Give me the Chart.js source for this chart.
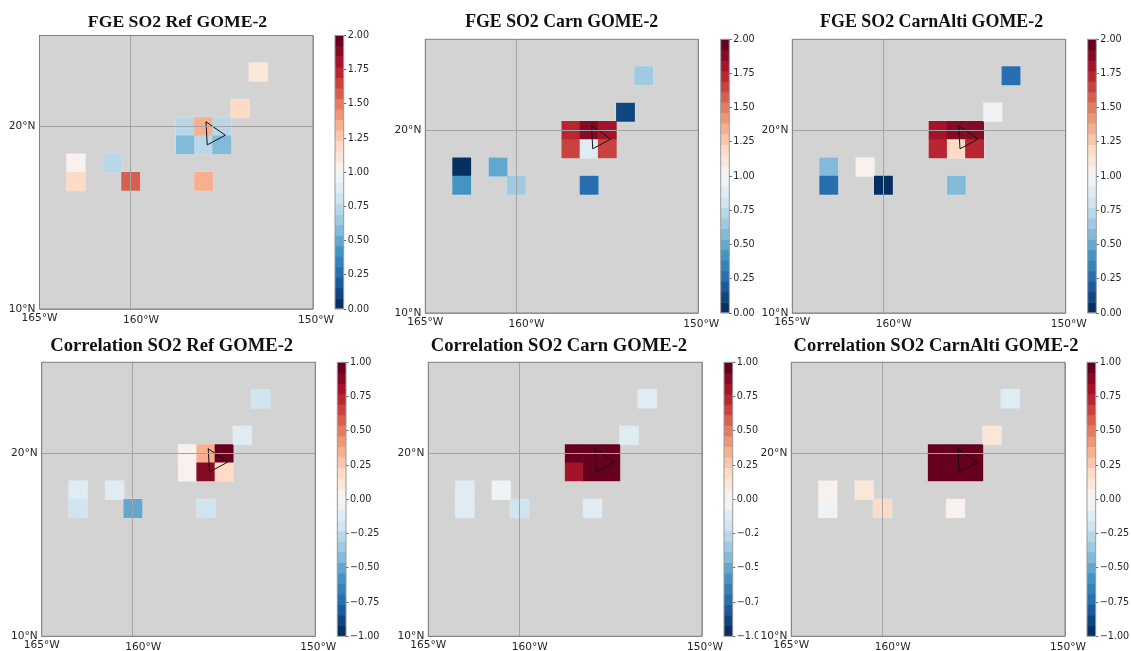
<!DOCTYPE html>
<html>
<head>
<meta charset="utf-8">
<title>SO2 FGE and correlation maps</title>
<script src="https://cdn.jsdelivr.net/npm/chart.js@4"></script>
<style>
    html, body { margin: 0; padding: 0; background: #fff; }
    body { position: relative; width: 1131px; height: 651px; overflow: hidden; }
    canvas { position: absolute; }
</style>
</head>
<body>
<script>
// grid cells with data, same for all panels
var cellLons = [-163, -163, -161, -160, -157, -156, -155, -157, -156, -155, -156, -154, -153];
var cellLats = [18, 17, 18, 17, 20, 20, 20, 19, 19, 19, 17, 21, 23];

var fgeRef = [1.05, 1.2, 0.75, 1.6, 0.75, 1.35, 0.75, 0.6, 0.75, 0.6, 1.35, 1.2, 1.1];
var fgeCarn = [0.02, 0.4, 0.5, 0.65, 1.72, 1.9, 1.8, 1.65, 0.9, 1.65, 0.28, 0.1, 0.68];
var fgeCarnAlti = [0.6, 0.28, 1.05, 0.02, 1.8, 1.9, 1.9, 1.72, 1.2, 1.72, 0.6, 0.95, 0.28];
var corrRef = [-0.12, -0.17, -0.1, -0.5, 0.02, 0.35, 0.98, 0.02, 0.87, 0.2, -0.17, -0.12, -0.17];
var corrCarn = [-0.12, -0.12, -0.06, -0.2, 0.98, 0.98, 0.98, 0.8, 0.98, 0.98, -0.12, -0.12, -0.12];
var corrCarnAlti = [0.02, -0.06, 0.1, 0.17, 0.98, 0.98, 0.98, 0.98, 0.98, 0.98, 0.02, 0.1, -0.12];

// Big Island outline
var islandLons = [-155.87, -155.8, -154.81, -155.87];
var islandLats = [20.27, 19.0, 19.53, 20.27];

var lonTicks = [-165, -160, -150];
var latTicks = [10, 20];
var fgeTicks = [0, 0.25, 0.5, 0.75, 1, 1.25, 1.5, 1.75, 2];
var corrTicks = [-1, -0.75, -0.5, -0.25, 0, 0.25, 0.5, 0.75, 1];

// RdBu_r anchor colours
var rdbu = ['#053061', '#2166ac', '#4393c3', '#92c5de', '#d1e5f0', '#f7f7f7', '#fddbc7', '#f4a582', '#d6604d', '#b2182b', '#67001f'];
var nLevels = 26;

// box = axes left/right/top/bottom, bar = colorbar left/right, clip = where the picture of the panel ends
var panels = [
    { title: 'FGE SO2 Ref GOME-2', values: fgeRef, ticks: fgeTicks, box: [39.5, 313, 35.5, 309], bar: [335, 343.7], titleX: 177.5, titleY: 22, titleSize: 17.7, clip: 385 },
    { title: 'FGE SO2 Carn GOME-2', values: fgeCarn, ticks: fgeTicks, box: [425.3, 698.3, 39.3, 313], bar: [720.7, 729.3], titleX: 561.7, titleY: 22, titleSize: 17.8, clip: 758 },
    { title: 'FGE SO2 CarnAlti GOME-2', values: fgeCarnAlti, ticks: fgeTicks, box: [792.3, 1065.7, 39.3, 313], bar: [1087.7, 1096.3], titleX: 931.6, titleY: 22, titleSize: 17.9, clip: 1131 },
    { title: 'Correlation SO2 Ref GOME-2', values: corrRef, ticks: corrTicks, box: [41.7, 315.3, 362.3, 636.3], bar: [337.3, 346], titleX: 171.7, titleY: 346, titleSize: 18.6, clip: 385 },
    { title: 'Correlation SO2 Carn GOME-2', values: corrCarn, ticks: corrTicks, box: [428.3, 702, 362.3, 636.3], bar: [724, 732.7], titleX: 559, titleY: 346, titleSize: 18.6, clip: 758 },
    { title: 'Correlation SO2 CarnAlti GOME-2', values: corrCarnAlti, ticks: corrTicks, box: [791.3, 1065, 362.3, 636.3], bar: [1087, 1095.7], titleX: 936, titleY: 346, titleSize: 18.5, clip: 1131 }
];

function hexToRgb(hex) {
    return [parseInt(hex.substr(1, 2), 16), parseInt(hex.substr(3, 2), 16), parseInt(hex.substr(5, 2), 16)];
}

// colour of level i out of nLevels
function levelColor(i) {
    var pos = i / (nLevels - 1) * (rdbu.length - 1);
    var lo = Math.min(Math.floor(pos), rdbu.length - 2);
    var f = pos - lo;
    var a = hexToRgb(rdbu[lo]);
    var b = hexToRgb(rdbu[lo + 1]);
    return 'rgb(' + Math.round(a[0] + (b[0] - a[0]) * f) + ',' + Math.round(a[1] + (b[1] - a[1]) * f) + ',' + Math.round(a[2] + (b[2] - a[2]) * f) + ')';
}

function valueColor(v, vmin, vmax) {
    var i = Math.floor((v - vmin) / (vmax - vmin) * nLevels);
    return levelColor(Math.max(0, Math.min(nLevels - 1, i)));
}

function addCanvas(left, top, width, height) {
    var canvas = document.createElement('canvas');
    canvas.width = width;
    canvas.height = height;
    canvas.style.left = left + 'px';
    canvas.style.top = top + 'px';
    canvas.style.width = width + 'px';
    canvas.style.height = height + 'px';
    document.body.appendChild(canvas);
    return canvas.getContext('2d');
}

// grey background behind the map
var mapBackground = {
    id: 'mapBackground',
    beforeDraw: function (chart) {
        var a = chart.chartArea;
        chart.ctx.fillStyle = '#d3d3d3';
        chart.ctx.fillRect(a.left, a.top, a.right - a.left, a.bottom - a.top);
    }
};

// frame round the plot area
var frame = {
    id: 'frame',
    afterDraw: function (chart, args, opts) {
        var a = chart.chartArea;
        chart.ctx.strokeStyle = opts.color;
        chart.ctx.lineWidth = 1;
        chart.ctx.strokeRect(a.left, a.top, a.right - a.left, a.bottom - a.top);
    }
};

// cartopy puts the lon labels a bit off their ticks, and the title is not centred on the axes
var nudgeLabels = {
    id: 'nudgeLabels',
    afterLayout: function (chart, args, opts) {
        chart.scales.x.getLabelItems().forEach(function (item, i) {
            item.options.translation[0] += [0, 10.3, 3][i];
            item.options.translation[1] += [0, 2, 2][i];
        });
        var t = chart.titleBlock;
        t.left = opts.titleX - 200;
        t.right = opts.titleX + 200;
        t.top = opts.titleY - 12;
    }
};

function drawMap(p) {
    var vmin = p.ticks[0];
    var vmax = p.ticks[p.ticks.length - 1];
    var left = p.box[0] - 39, right = p.box[1] + 32, top = p.box[2] - (p.titleY > 300 ? 37 : 35), bottom = p.box[3] + 20;
    var canvasLeft = Math.floor(left), canvasTop = Math.floor(top);
    var width = Math.ceil(right) - canvasLeft, height = Math.ceil(bottom) - canvasTop;
    var ctx = addCanvas(canvasLeft, canvasTop, width, height);

    var cells = cellLons.map(function (lon, i) {
        return { x: lon, y: [cellLats[i] - 0.5, cellLats[i] + 0.5] };
    });
    var island = islandLons.map(function (lon, i) {
        return { x: lon, y: islandLats[i] };
    });

    new Chart(ctx, {
        type: 'bar',
        data: {
            datasets: [{
                type: 'line',
                data: island,
                borderColor: '#111',
                borderWidth: 1,
                pointRadius: 0,
                tension: 0,
                order: 0
            }, {
                type: 'bar',
                data: cells,
                backgroundColor: p.values.map(function (v) { return valueColor(v, vmin, vmax); }),
                borderWidth: 0,
                barPercentage: 1,
                categoryPercentage: 1,
                grouped: false,
                order: 1
            }, {
                // pale rim the reference has round the cells
                type: 'bar',
                data: cells,
                backgroundColor: 'rgba(255,255,255,0.3)',
                borderWidth: 0,
                inflateAmount: 0.8,
                barPercentage: 1,
                categoryPercentage: 1,
                grouped: false,
                order: 2
            }]
        },
        plugins: [mapBackground, frame, nudgeLabels],
        options: {
            responsive: false,
            animation: false,
            events: [],
            layout: {
                padding: {
                    left: p.box[0] - canvasLeft - 36,
                    right: canvasLeft + width - p.box[1],
                    top: p.box[2] - canvasTop - 24,
                    bottom: canvasTop + height - p.box[3] - 18
                }
            },
            plugins: {
                legend: { display: false },
                tooltip: { enabled: false },
                title: {
                    display: true,
                    text: p.title,
                    color: '#111',
                    padding: 0,
                    font: { family: '"Liberation Serif"', size: p.titleSize, weight: 'bold', lineHeight: 24 / p.titleSize }
                },
                frame: { color: '#808080' },
                nudgeLabels: { titleX: p.titleX - canvasLeft, titleY: p.titleY - canvasTop }
            },
            scales: {
                x: {
                    type: 'linear',
                    min: -165,
                    max: -150,
                    offset: false,
                    afterBuildTicks: function (scale) {
                        scale.ticks = lonTicks.map(function (v) { return { value: v }; });
                    },
                    afterFit: function (scale) { scale.height = 18; },
                    grid: { display: true, offset: false, z: 1, color: '#a3a3a3', lineWidth: 1, drawTicks: false },
                    border: { display: false },
                    ticks: {
                        autoSkip: false,
                        maxRotation: 0,
                        padding: 3,
                        color: '#262626',
                        font: { family: '"DejaVu Sans"', size: 10.6 },
                        callback: function (v) { return Math.abs(v) + '°W'; }
                    }
                },
                y: {
                    type: 'linear',
                    min: 10,
                    max: 25,
                    afterBuildTicks: function (scale) {
                        scale.ticks = latTicks.map(function (v) { return { value: v }; });
                    },
                    afterFit: function (scale) { scale.width = 36; },
                    grid: { display: true, z: 1, color: '#a3a3a3', lineWidth: 1, drawTicks: false },
                    border: { display: false },
                    ticks: {
                        autoSkip: false,
                        padding: 4,
                        color: '#262626',
                        font: { family: '"DejaVu Sans"', size: 10.6 },
                        callback: function (v) { return v + '°N'; }
                    }
                }
            }
        }
    });
}

function drawColorbar(p) {
    var vmin = p.ticks[0];
    var vmax = p.ticks[p.ticks.length - 1];
    var step = (vmax - vmin) / nLevels;
    var canvasLeft = Math.floor(p.bar[0]) - 2;
    var canvasTop = Math.floor(p.box[2]) - 8;
    var width = p.clip - canvasLeft;
    var height = Math.ceil(p.box[3]) + 8 - canvasTop;
    var ctx = addCanvas(canvasLeft, canvasTop, width, height);

    var levels = [];
    var colors = [];
    for (var i = 0; i < nLevels; i++) {
        levels.push({ x: 'cb', y: [vmin + i * step, vmin + (i + 1) * step] });
        colors.push(levelColor(i));
    }

    new Chart(ctx, {
        type: 'bar',
        data: {
            labels: ['cb'],
            datasets: [{
                data: levels,
                backgroundColor: colors,
                borderWidth: 0,
                barPercentage: 1,
                categoryPercentage: 1
            }]
        },
        plugins: [frame],
        options: {
            responsive: false,
            animation: false,
            events: [],
            layout: {
                padding: {
                    left: p.bar[0] - canvasLeft,
                    right: 0,
                    top: p.box[2] - canvasTop,
                    bottom: canvasTop + height - p.box[3]
                }
            },
            plugins: {
                legend: { display: false },
                tooltip: { enabled: false },
                frame: { color: '#9a9a9a' }
            },
            scales: {
                x: { display: false },
                y: {
                    position: 'right',
                    min: vmin,
                    max: vmax,
                    afterBuildTicks: function (scale) {
                        scale.ticks = p.ticks.map(function (v) { return { value: v }; });
                    },
                    afterFit: function (scale) { scale.width = width - (p.bar[1] - canvasLeft); },
                    grid: { display: true, drawOnChartArea: false, drawTicks: true, tickLength: 2.5, tickColor: '#666' },
                    border: { display: false },
                    ticks: {
                        autoSkip: false,
                        padding: 1.5,
                        color: '#262626',
                        font: { family: '"DejaVu Sans"', size: 9.6 },
                        callback: function (v) { return v.toFixed(2).replace('-', '\u2212'); }
                    }
                }
            }
        }
    });
}

panels.forEach(function (p) {
    drawMap(p);
    drawColorbar(p);
});
</script>
</body>
</html>
